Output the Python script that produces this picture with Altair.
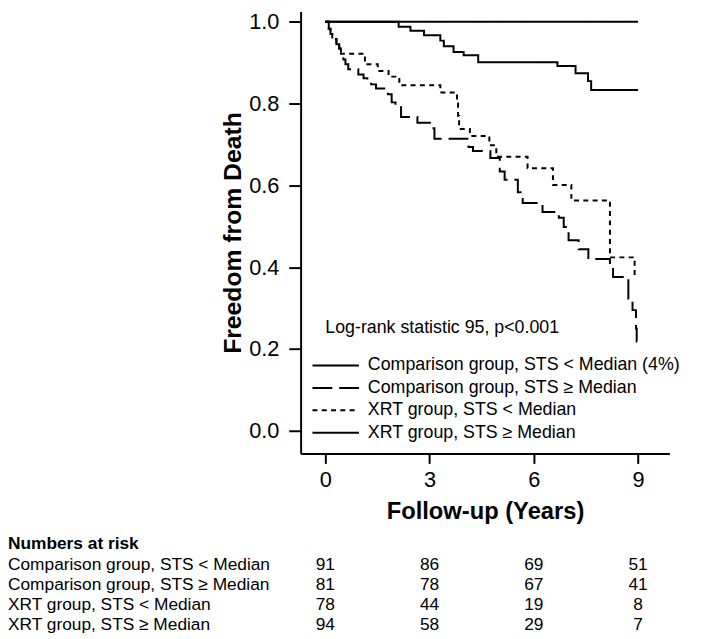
import altair as alt
import pandas as pd

# ---- data ----
series = [
    "Comparison group, STS < Median (4%)",
    "Comparison group, STS \u2265 Median",
    "XRT group, STS < Median",
    "XRT group, STS \u2265 Median",
]

comp_lt_t = [0, 9.0]
comp_lt_s = [1.0, 1.0]

comp_ge_t = [0, 0.10, 0.15, 0.20, 0.32, 0.40, 0.45, 0.52, 0.58, 0.66, 0.95, 1.10, 1.21, 1.32,
             1.46, 1.80, 1.91, 2.02, 2.18, 2.65, 3.08, 3.14, 4.12, 4.25, 4.75, 5.02, 5.16,
             5.54, 5.68, 6.25, 6.72, 6.86, 7.00, 7.29, 7.57, 8.19, 8.28, 8.72, 8.84, 8.94,
             8.96, 8.97]
comp_ge_s = [1.0, 0.983, 0.970, 0.958, 0.945, 0.935, 0.922, 0.908, 0.896, 0.884, 0.871, 0.862,
             0.855, 0.847, 0.837, 0.823, 0.803, 0.791, 0.767, 0.753, 0.740, 0.714, 0.694, 0.684,
             0.667, 0.634, 0.614, 0.583, 0.557, 0.535, 0.521, 0.498, 0.466, 0.444, 0.420, 0.404,
             0.376, 0.323, 0.295, 0.250, 0.218, 0.218]

xrt_lt_t = [0, 0.10, 0.15, 0.20, 0.32, 0.40, 0.45, 1.14, 1.51, 1.82, 2.13, 3.31, 3.79, 3.82,
            3.85, 4.16, 4.72, 4.92, 5.82, 6.55, 7.08, 8.19, 8.90, 9.0]
xrt_lt_s = [1.0, 0.983, 0.970, 0.958, 0.945, 0.935, 0.922, 0.896, 0.880, 0.866, 0.845, 0.827,
            0.80, 0.77, 0.738, 0.721, 0.698, 0.670, 0.642, 0.601, 0.563, 0.424, 0.380, 0.380]

xrt_ge_t = [0, 2.11, 2.45, 2.84, 3.31, 3.41, 3.69, 3.98, 4.40, 6.68, 7.20, 7.56, 7.65, 9.0]
xrt_ge_s = [1.0, 0.988, 0.978, 0.967, 0.954, 0.940, 0.926, 0.918, 0.901, 0.892, 0.874, 0.855,
            0.833, 0.833]

risk_rows = [
    "Comparison group, STS < Median",
    "Comparison group, STS \u2265 Median",
    "XRT group, STS < Median",
    "XRT group, STS \u2265 Median",
]
risk_times = [0, 3, 6, 9]
risk_comp_lt = [91, 86, 69, 51]
risk_comp_ge = [81, 78, 67, 41]
risk_xrt_lt = [78, 44, 19, 8]
risk_xrt_ge = [94, 58, 29, 7]

x_ticks = [0, 3, 6, 9]
y_ticks = [0.0, 0.2, 0.4, 0.6, 0.8, 1.0]

# ---- tables ----
rows = []
for name, ts, ss in zip(series, [comp_lt_t, comp_ge_t, xrt_lt_t, xrt_ge_t],
                        [comp_lt_s, comp_ge_s, xrt_lt_s, xrt_ge_s]):
    for t, s in zip(ts, ss):
        rows.append({"series": name, "t": t, "s": s})
curves = pd.DataFrame(rows)

risk = []
for r, vals in zip(risk_rows, [risk_comp_lt, risk_comp_ge, risk_xrt_lt, risk_xrt_ge]):
    for t, v in zip(risk_times, vals):
        risk.append({"row": r, "t": t, "n": v})
risk_df = pd.DataFrame(risk)
legend_df = pd.DataFrame({"series": series})
rowname_df = pd.DataFrame({"row": risk_rows})

FONT = "Liberation Sans"
dash_scale = alt.Scale(domain=series, range=[[1, 0], [20, 7], [5, 4.4], [1, 0]])

W, H = 373, 447
PAD_L = 296

x_scale = alt.Scale(domain=[-0.71, 9.9], nice=False, zero=False)
y_scale = alt.Scale(domain=[-0.0556, 1.025], nice=False, zero=False)

lines = alt.Chart(curves).mark_line(interpolate="step-after", color="black", strokeWidth=2).encode(
    x=alt.X("t:Q", scale=x_scale,
            axis=alt.Axis(values=x_ticks, title="Follow-up (Years)", format="d",
                          tickSize=10, labelPadding=6, titlePadding=10)),
    y=alt.Y("s:Q", scale=y_scale,
            axis=alt.Axis(values=y_ticks, title="Freedom from Death", format=".1f",
                          tickSize=12, labelPadding=10, titlePadding=3,
                          titleFontSize=25)),
    strokeDash=alt.StrokeDash("series:N", scale=dash_scale, legend=None),
    detail="series:N",
)

leg_y = alt.Scale(type="point", domain=series, range=[358, 426], padding=0)
leg_rules = alt.Chart(legend_df).mark_rule(color="black", strokeWidth=2).encode(
    x=alt.value(12),
    x2=alt.value(59),
    y=alt.Y("series:N", scale=leg_y, axis=None),
    strokeDash=alt.StrokeDash("series:N", scale=dash_scale, legend=None),
)
leg_text = alt.Chart(legend_df).mark_text(align="left", baseline="middle", font=FONT,
                                          fontSize=18, color="black").encode(
    x=alt.value(68),
    y=alt.Y("series:N", scale=leg_y, axis=None),
    text="series:N",
)
logrank = alt.Chart(pd.DataFrame({"label": ["Log-rank statistic 95, p<0.001"]})).mark_text(
    align="left", baseline="middle", font=FONT, fontSize=18, color="black").encode(
    x=alt.value(25), y=alt.value(320), text="label:N")

tab_y = alt.Scale(type="point", domain=risk_rows, range=[560, 621], padding=0)
risk_nums = alt.Chart(risk_df).mark_text(align="center", baseline="middle", font=FONT,
                                         fontSize=17.5, color="black").encode(
    x=alt.X("t:Q", scale=x_scale),
    y=alt.Y("row:N", scale=tab_y, axis=None),
    text="n:Q",
)
risk_names = alt.Chart(rowname_df).mark_text(align="left", baseline="middle", font=FONT,
                                             fontSize=17.5, color="black").encode(
    x=alt.value(-PAD_L),
    y=alt.Y("row:N", scale=tab_y, axis=None),
    text="row:N",
)
risk_head = alt.Chart(pd.DataFrame({"label": ["Numbers at risk"]})).mark_text(
    align="left", baseline="middle", font=FONT, fontSize=17.5, fontWeight="bold",
    color="black").encode(x=alt.value(-PAD_L), y=alt.value(539), text="label:N")

chart = alt.layer(
    lines, leg_rules, leg_text, logrank, risk_nums, risk_names, risk_head
).resolve_scale(y="independent", strokeDash="shared").properties(
    width=W, height=H,
    autosize=alt.AutoSizeParams(type="none"),
    padding={"left": PAD_L, "top": 0, "right": 32, "bottom": 183},
).configure_view(stroke=None).configure_axis(
    domainColor="black", domainWidth=2, tickColor="black", tickWidth=2, grid=False,
    labelFont=FONT, labelFontSize=22, labelColor="black",
    titleFont=FONT, titleFontSize=24, titleFontWeight="bold", titleColor="black",
)

chart.save("out.html", embed_options={"renderer": "svg", "actions": False})
